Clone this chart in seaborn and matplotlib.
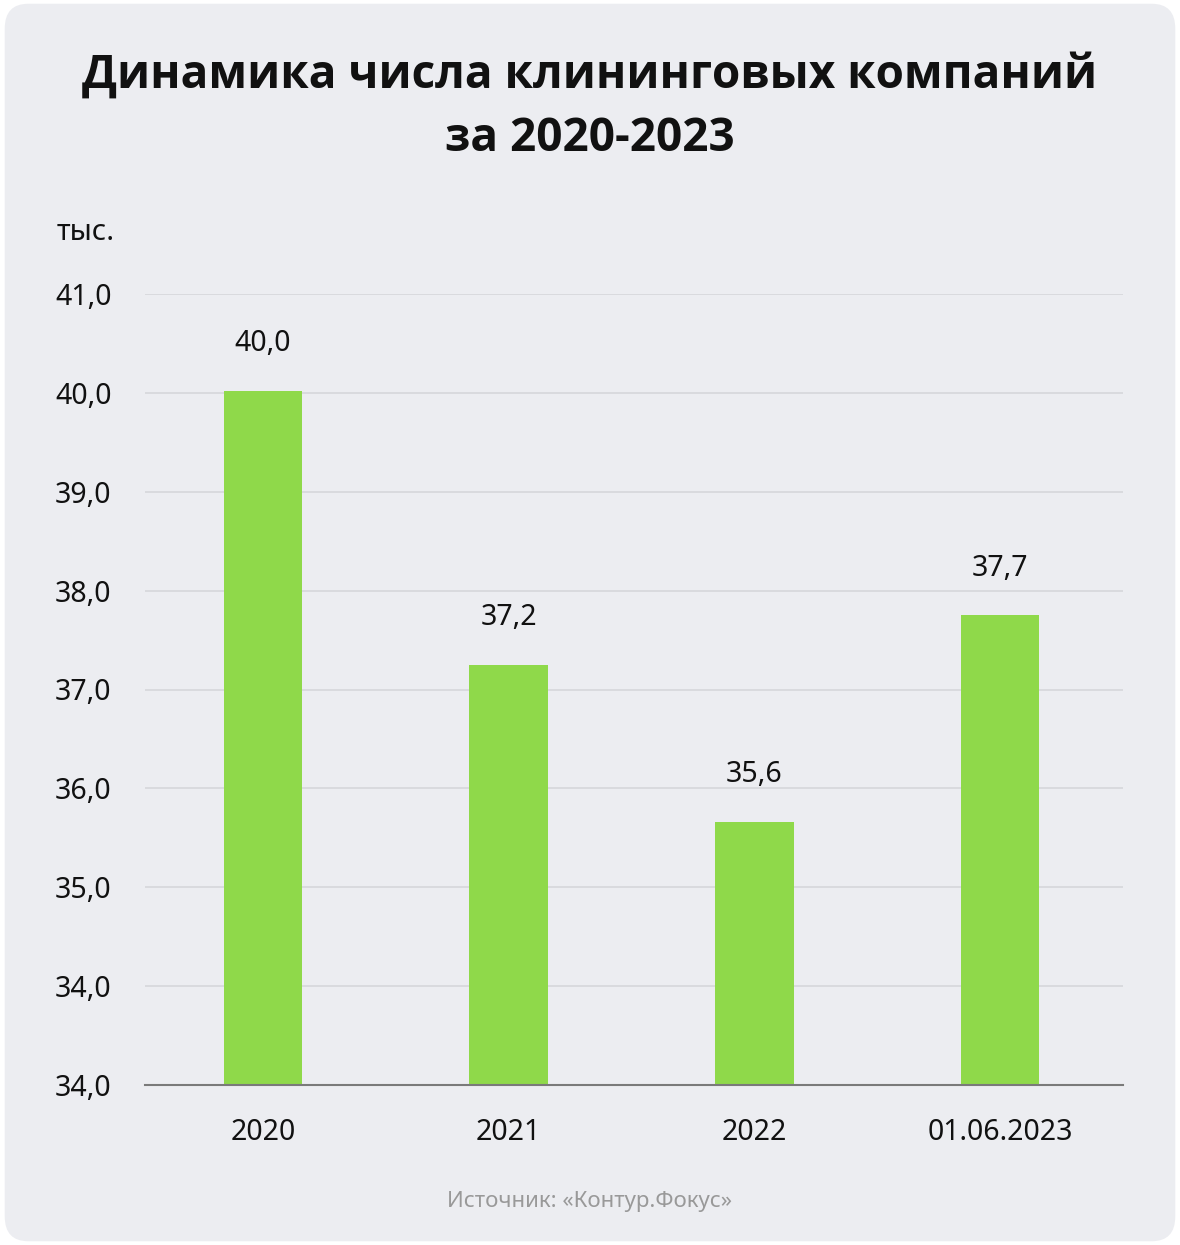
import matplotlib
matplotlib.use("Agg")
import matplotlib.pyplot as plt
import seaborn as sns
import pandas as pd
from matplotlib.patches import FancyBboxPatch

categories = ["2020", "2021", "2022", "01.06.2023"]
values = [40.02, 37.25, 35.66, 37.75]
value_labels = ["40,0", "37,2", "35,6", "37,7"]
ytick_values = [33, 34, 35, 36, 37, 38, 39, 40, 41]
ytick_labels = ["34,0", "34,0", "35,0", "36,0", "37,0", "38,0", "39,0", "40,0", "41,0"]

title = "Динамика числа клининговых компаний\nза 2020-2023"
unit_label = "тыс."
source = "Источник: «Контур.Фокус»"

BG = "#ECEDF1"
BAR = "#8FD94A"

sns.set_theme(style="whitegrid")
plt.rcParams["font.family"] = ["Noto Sans", "DejaVu Sans"]

fig = plt.figure(figsize=(11.8, 12.45), dpi=100)
fig.patch.set_facecolor("white")
bg = FancyBboxPatch((0.004, 0.003), 0.992, 0.994,
                    boxstyle="round,pad=0,rounding_size=0.02",
                    transform=fig.transFigure, facecolor=BG, edgecolor="none",
                    zorder=-10)
fig.patches.append(bg)

ax = fig.add_axes([145/1180, 160/1245, (1123-145)/1180, (1085-294)/1245])
ax.set_facecolor(BG)

df = pd.DataFrame({"cat": categories, "val": values})
sns.barplot(data=df, x="cat", y="val", color=BAR, width=0.32, ax=ax,
            saturation=1, zorder=3, edgecolor="none", linewidth=0)

ax.set_ylim(33, 41)
ax.set_xlim(-0.48, 3.5)
ax.set_yticks(ytick_values)
ax.set_yticklabels(ytick_labels)
ax.set_xlabel("")
ax.set_ylabel("")

ax.grid(axis="y", color="#D6D7DB", linewidth=1.2, zorder=0)
ax.grid(axis="x", visible=False)
for s in ["top", "right", "left"]:
    ax.spines[s].set_visible(False)
ax.spines["bottom"].set_color("#7A7A7A")
ax.spines["bottom"].set_linewidth(1.5)
ax.spines["bottom"].set_zorder(4)

ax.tick_params(axis="y", length=0, pad=24, labelsize=20.5, labelcolor="#111111")
ax.tick_params(axis="x", length=0, pad=24, labelsize=20.5, labelcolor="#111111")

for i, (v, lab) in enumerate(zip(values, value_labels)):
    ax.annotate(lab, xy=(i, v), xytext=(0, 34), textcoords="offset points",
                ha="center", va="center", fontsize=20.5, color="#111111")

fig.text(590/1180, 1 - 107/1245, title, ha="center", va="center",
         fontsize=33, fontweight="bold", color="#111111", linespacing=1.45,
         family=["Open Sans", "DejaVu Sans"])
fig.text(57/1180, 1 - 232/1245, unit_label, ha="left", va="center",
         fontsize=21, color="#111111")
fig.text(590/1180, 1 - 1201/1245, source, ha="center", va="center",
         fontsize=16, color="#999999")

fig.savefig("out.png", dpi=100, facecolor="white")
